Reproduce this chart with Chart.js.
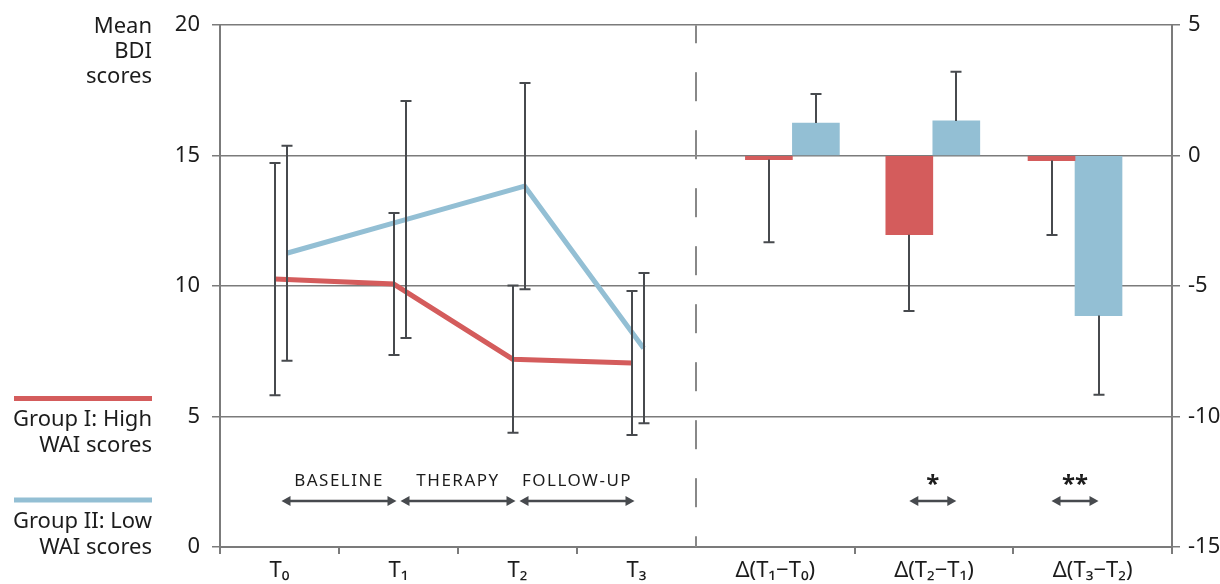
<!DOCTYPE html>
<html>
<head>
<meta charset="utf-8">
<title>Mean BDI scores - High vs Low WAI</title>
<script src="https://cdn.jsdelivr.net/npm/chart.js@4.4.0/dist/chart.umd.min.js"></script>
<style>
html, body { margin: 0; padding: 0; background: #fff; }
#container { width: 1220px; height: 584px; }
</style>
</head>
<body>
<div id="container"><canvas id="canvas" width="1220" height="584"></canvas></div>
<script>
// bottom axis categories
var timeLabels = ['T\u2080', 'T\u2081', 'T\u2082', 'T\u2083'];
var deltaLabels = ['\u0394(T\u2081\u2212T\u2080)', '\u0394(T\u2082\u2212T\u2081)', '\u0394(T\u2083\u2212T\u2082)'];

// mean BDI per time point (left axis) with SD
var highMeans = [10.27, 10.08, 7.2, 7.05];
var highSD = [4.45, 2.72, 2.82, 2.76];
var lowMeans = [11.26, 12.55, 13.83, 7.62];
var lowSD = [4.12, 4.54, 3.95, 2.88];

// change scores (right axis) with one-sided error
var highDelta = [-0.15, -3.03, -0.19];
var highDeltaErr = [3.17, 2.92, 2.85];
var lowDelta = [1.25, 1.33, -6.13];
var lowDeltaErr = [1.11, 1.89, 3.03];

var leftTicks = [0, 5, 10, 15, 20];
var rightTicks = [-15, -10, -5, 0, 5];
var phaseLabels = ['BASELINE', 'THERAPY', 'FOLLOW-UP'];
var signifLabels = ['', '*', '**'];

// layout of the x axis (0..4 time points, 4..8 change scores)
var timePos = [0.5, 1.5, 2.5, 3.5];
var deltaPos = [4 + 2 / 3, 6, 7 + 1 / 3];
var barPos = [4.81, 5.99, 7.185];
var xBounds = [0, 1, 2, 3, 4 + 4 / 3, 4 + 8 / 3, 8];
var allXTicks = xBounds.concat(timePos, deltaPos).sort(function (a, b) { return a - b; });

var red = '#d45c5c';
var blue = '#93bfd4';
var gray = '#7b7b7b';
var ink = '#474a4e';
var textCol = '#1c1c1c';
var fontFam = "'Noto Sans', 'DejaVu Sans', sans-serif";

function near(a, b) { return Math.abs(a - b) < 1e-6; }
function xLabelFor(v) {
  for (var i = 0; i < timePos.length; i++) if (near(v, timePos[i])) return timeLabels[i];
  for (var j = 0; j < deltaPos.length; j++) if (near(v, deltaPos[j])) return deltaLabels[j];
  return '';
}
function isBound(v) {
  for (var i = 0; i < xBounds.length; i++) if (near(v, xBounds[i])) return true;
  return false;
}

var highLine = highMeans.map(function (v, i) { return { x: timePos[i] - 0.04, y: v }; });
var lowLine = lowMeans.map(function (v, i) { return { x: timePos[i] + 0.06, y: v }; });
var highBars = highDelta.map(function (v, i) { return { x: barPos[i], y: v }; });
var lowBars = lowDelta.map(function (v, i) { return { x: barPos[i], y: v }; });

function arrow(ctx, x1, x2, y) {
  var h = 9, w = 5;
  ctx.beginPath();
  ctx.moveTo(x1 + h - 1, y);
  ctx.lineTo(x2 - h + 1, y);
  ctx.stroke();
  ctx.beginPath();
  ctx.moveTo(x1, y); ctx.lineTo(x1 + h, y - w); ctx.lineTo(x1 + h, y + w);
  ctx.closePath(); ctx.fill();
  ctx.beginPath();
  ctx.moveTo(x2, y); ctx.lineTo(x2 - h, y - w); ctx.lineTo(x2 - h, y + w);
  ctx.closePath(); ctx.fill();
}

// error bars: symmetric for the lines, outward only for the bars
var errorBars = {
  id: 'errorBars',
  afterDatasetsDraw: function (chart) {
    var ctx = chart.ctx;
    ctx.save();
    ctx.strokeStyle = ink;
    ctx.lineWidth = 2;
    chart.data.datasets.forEach(function (ds, di) {
      var meta = chart.getDatasetMeta(di);
      var ys = chart.scales[ds.yAxisID];
      ds.data.forEach(function (p, i) {
        var el = meta.data[i];
        var x = Math.round(el.x);
        var err = ds.errors[i];
        var y1, y2;
        if (ds.type === 'line') {
          y1 = ys.getPixelForValue(p.y + err);
          y2 = ys.getPixelForValue(p.y - err);
        } else {
          var dir = p.y < 0 ? -1 : 1;
          y1 = el.y;
          y2 = ys.getPixelForValue(p.y + dir * err);
        }
        ctx.beginPath();
        ctx.moveTo(x, y1); ctx.lineTo(x, y2);
        if (ds.type === 'line') { ctx.moveTo(x - 5.5, y1); ctx.lineTo(x + 5.5, y1); }
        ctx.moveTo(x - 5.5, y2); ctx.lineTo(x + 5.5, y2);
        ctx.stroke();
      });
    });
    ctx.restore();
  }
};

var annotations = {
  id: 'annotations',
  beforeDatasetsDraw: function (chart) {
    var ctx = chart.ctx, xs = chart.scales.x, area = chart.chartArea;
    var xd = Math.round(xs.getPixelForValue(4));
    ctx.save();
    ctx.strokeStyle = '#888888';
    ctx.lineWidth = 2;
    ctx.setLineDash([29, 29]);
    ctx.lineDashOffset = 11;
    ctx.beginPath();
    ctx.moveTo(xd, area.top); ctx.lineTo(xd, area.bottom);
    ctx.stroke();
    ctx.restore();
  },
  afterDraw: function (chart) {
    var ctx = chart.ctx, xs = chart.scales.x;
    ctx.save();
    ctx.fillStyle = textCol;
    ctx.font = '22px ' + fontFam;
    ctx.textAlign = 'right';
    ctx.textBaseline = 'alphabetic';
    // axis title
    ctx.fillText('Mean', 152, 33);
    ctx.fillText('BDI', 152, 58);
    ctx.fillText('scores', 152, 83);

    // legend
    var ds = chart.data.datasets;
    ctx.lineWidth = 5;
    ctx.strokeStyle = ds[0].borderColor;
    ctx.beginPath(); ctx.moveTo(14, 398.5); ctx.lineTo(152, 398.5); ctx.stroke();
    ctx.strokeStyle = ds[1].borderColor;
    ctx.beginPath(); ctx.moveTo(14, 500); ctx.lineTo(152, 500); ctx.stroke();
    ctx.fillText('Group I: High', 152, 426);
    ctx.fillText('WAI scores', 152, 452);
    ctx.fillText('Group II: Low', 152, 528);
    ctx.fillText('WAI scores', 152, 554);

    // study phases
    ctx.fillStyle = ink;
    ctx.strokeStyle = ink;
    ctx.lineWidth = 2.5;
    for (var i = 0; i < phaseLabels.length; i++) {
      var a = xs.getPixelForValue(timePos[i]) + 2;
      var b = xs.getPixelForValue(timePos[i + 1]) - 2;
      arrow(ctx, a, b, 501);
    }
    ctx.fillStyle = textCol;
    ctx.font = '17px ' + fontFam;
    ctx.textAlign = 'center';
    ctx.letterSpacing = '1.5px';
    for (var k = 0; k < phaseLabels.length; k++) {
      ctx.fillText(phaseLabels[k], xs.getPixelForValue(k + 1), 486);
    }
    ctx.letterSpacing = '0px';

    // significance markers between the bar pairs
    var m0 = chart.getDatasetMeta(2), m1 = chart.getDatasetMeta(3);
    ctx.font = 'bold 24px ' + fontFam;
    for (var j = 0; j < signifLabels.length; j++) {
      if (!signifLabels[j]) continue;
      var xa = m0.data[j].x, xb = m1.data[j].x;
      ctx.fillStyle = ink;
      arrow(ctx, xa, xb, 501);
      ctx.fillStyle = textCol;
      ctx.fillText(signifLabels[j], (xa + xb) / 2, 492);
    }
    ctx.restore();
  }
};

Chart.defaults.font.family = fontFam;
Chart.defaults.font.size = 22;
Chart.defaults.color = textCol;

var ctx = document.getElementById('canvas').getContext('2d');
window.myChart = new Chart(ctx, {
  type: 'bar',
  data: {
    datasets: [
      { type: 'line', label: 'Group I: High WAI scores', data: highLine, errors: highSD,
        borderColor: red, borderWidth: 5, pointRadius: 0, tension: 0, fill: false, yAxisID: 'y' },
      { type: 'line', label: 'Group II: Low WAI scores', data: lowLine, errors: lowSD,
        borderColor: blue, borderWidth: 5, pointRadius: 0, tension: 0, fill: false, yAxisID: 'y' },
      { type: 'bar', label: 'Group I change', data: highBars, errors: highDeltaErr,
        backgroundColor: red, borderWidth: 0, barThickness: 47, yAxisID: 'y2' },
      { type: 'bar', label: 'Group II change', data: lowBars, errors: lowDeltaErr,
        backgroundColor: blue, borderWidth: 0, barThickness: 47, yAxisID: 'y2' }
    ]
  },
  options: {
    responsive: false,
    animation: false,
    events: [],
    layout: { padding: { top: 25, left: 0, right: 0, bottom: 0 } },
    plugins: { legend: { display: false }, tooltip: { enabled: false } },
    scales: {
      x: {
        type: 'linear', min: 0, max: 8, offset: false,
        afterBuildTicks: function (s) { s.ticks = allXTicks.map(function (v) { return { value: v }; }); },
        afterFit: function (s) { s.height = 37; },
        grid: {
          offset: false, drawOnChartArea: false, tickLength: 7, lineWidth: 2,
          tickColor: function (c) { return (c.tick && isBound(c.tick.value)) ? gray : 'rgba(0,0,0,0)'; }
        },
        border: { color: gray, width: 2 },
        ticks: { autoSkip: false, maxRotation: 0, padding: 4, color: textCol,
          callback: function (v) { return xLabelFor(v); } }
      },
      y: {
        position: 'left', min: 0, max: 20,
        afterBuildTicks: function (s) { s.ticks = leftTicks.map(function (v) { return { value: v }; }); },
        afterFit: function (s) { s.width = 220; },
        grid: { color: gray, lineWidth: 1.5, tickLength: 8 },
        border: { color: gray, width: 2 },
        ticks: { padding: 12, color: textCol }
      },
      y2: {
        position: 'right', min: -15, max: 5,
        afterBuildTicks: function (s) { s.ticks = rightTicks.map(function (v) { return { value: v }; }); },
        afterFit: function (s) { s.width = 48; },
        grid: { drawOnChartArea: false, color: gray, lineWidth: 1.5, tickLength: 8 },
        border: { color: gray, width: 2 },
        ticks: { padding: 8, color: textCol }
      }
    }
  },
  plugins: [errorBars, annotations]
});
</script>
</body>
</html>
